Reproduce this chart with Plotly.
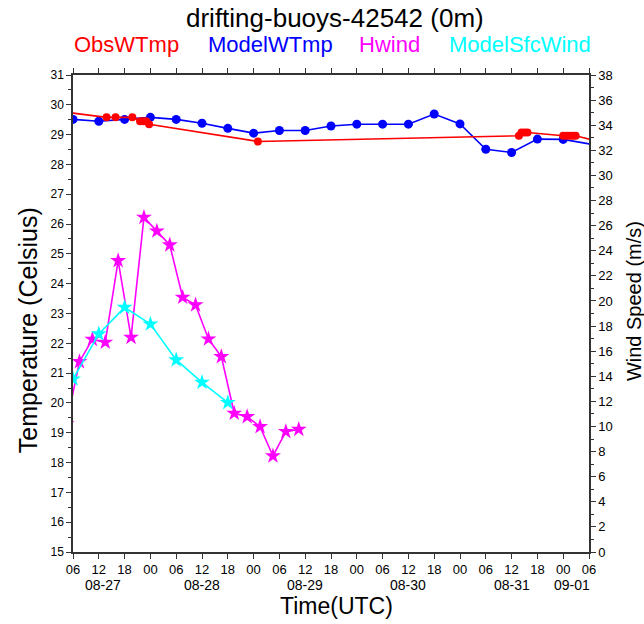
import plotly.graph_objects as go

# Observed water temperature (deg C)
obs_time = ["2021-08-27 00:00", "2021-08-27 13:48", "2021-08-27 15:54", "2021-08-27 19:48",
            "2021-08-27 21:36", "2021-08-27 22:24", "2021-08-27 23:00", "2021-08-27 23:42",
            "2021-08-29 01:00", "2021-08-31 13:42", "2021-08-31 14:18", "2021-08-31 15:00",
            "2021-08-31 15:42", "2021-09-01 00:00", "2021-09-01 00:48", "2021-09-01 01:36",
            "2021-09-01 02:18", "2021-09-01 02:54", "2021-09-01 12:00"]
obs_wtmp = [29.83, 29.58, 29.58, 29.58, 29.45, 29.45, 29.45, 29.35,
            28.77, 28.96, 29.07, 29.07, 29.07, 28.96, 28.96, 28.96,
            28.96, 28.96, 28.64]

# Model water temperature (deg C), 6-hourly
model_time = ["2021-08-27 06:00", "2021-08-27 12:00", "2021-08-27 18:00", "2021-08-28 00:00",
              "2021-08-28 06:00", "2021-08-28 12:00", "2021-08-28 18:00", "2021-08-29 00:00",
              "2021-08-29 06:00", "2021-08-29 12:00", "2021-08-29 18:00", "2021-08-30 00:00",
              "2021-08-30 06:00", "2021-08-30 12:00", "2021-08-30 18:00", "2021-08-31 00:00",
              "2021-08-31 06:00", "2021-08-31 12:00", "2021-08-31 18:00", "2021-09-01 00:00",
              "2021-09-01 12:00"]
model_wtmp = [29.51, 29.45, 29.51, 29.58, 29.51, 29.38, 29.21, 29.05,
              29.14, 29.14, 29.29, 29.35, 29.35, 29.35, 29.69, 29.36,
              28.51, 28.40, 28.85, 28.84, 28.54]

# Hwind analysis wind speed (m/s), 3-hourly
hwind_time = ["2021-08-27 04:30", "2021-08-27 07:30", "2021-08-27 10:30", "2021-08-27 13:30",
              "2021-08-27 16:30", "2021-08-27 19:30", "2021-08-27 22:30", "2021-08-28 01:30",
              "2021-08-28 04:30", "2021-08-28 07:30", "2021-08-28 10:30", "2021-08-28 13:30",
              "2021-08-28 16:30", "2021-08-28 19:30", "2021-08-28 22:30", "2021-08-29 01:30",
              "2021-08-29 04:30", "2021-08-29 07:30", "2021-08-29 10:30"]
hwind = [10.2, 15.16, 16.94, 16.71, 23.21, 17.10, 26.66, 25.57, 24.46, 20.29,
         19.68, 16.97, 15.56, 11.05, 10.78, 9.98, 7.65, 9.59, 9.77]

# Model surface wind speed (m/s), 6-hourly
sfc_time = ["2021-08-27 06:00", "2021-08-27 12:00", "2021-08-27 18:00", "2021-08-28 00:00",
            "2021-08-28 06:00", "2021-08-28 12:00", "2021-08-28 18:00"]
sfc_wind = [13.78, 17.37, 19.49, 18.16, 15.30, 13.52, 11.90]

# Day labels under the hour ticks
day_pos = ["2021-08-27 13:00", "2021-08-28 12:00", "2021-08-29 12:00",
           "2021-08-30 12:00", "2021-08-31 12:00", "2021-09-01 02:00"]
day_text = ["08-27", "08-28", "08-29", "08-30", "08-31", "09-01"]

FONT = "Liberation Sans, Arial, sans-serif"
AXC = "#333333"

fig = go.Figure()
fig.add_trace(go.Scatter(x=model_time, y=model_wtmp, mode="lines+markers", name="ModelWTmp",
                         line=dict(color="#0000ff", width=1.6),
                         marker=dict(symbol="circle", size=9, color="#0000ff")))
fig.add_trace(go.Scatter(x=obs_time, y=obs_wtmp, mode="lines+markers", name="ObsWTmp",
                         line=dict(color="#ff0000", width=1.6),
                         marker=dict(symbol="circle", size=8, color="#ff0000")))
fig.add_trace(go.Scatter(x=hwind_time, y=hwind, mode="lines+markers", name="Hwind", yaxis="y2",
                         line=dict(color="#ff00ff", width=1.6),
                         marker=dict(symbol="star", size=12, color="#ff00ff")))
fig.add_trace(go.Scatter(x=sfc_time, y=sfc_wind, mode="lines+markers", name="ModelSfcWind", yaxis="y2",
                         line=dict(color="#00ffff", width=1.6),
                         marker=dict(symbol="star", size=12, color="#00ffff")))

annotations = [
    dict(text="drifting-buoys-42542 (0m)", xref="paper", yref="paper", x=0.5, y=1.119,
         xanchor="center", yanchor="middle", showarrow=False, xshift=4,
         font=dict(size=26, color="black", family=FONT)),
    dict(text="Time(UTC)", xref="paper", yref="paper", x=0.5, y=0, yshift=-54,
         xanchor="center", yanchor="middle", showarrow=False, xshift=5,
         font=dict(size=23, color="black", family=FONT)),
    dict(text="Temperature (Celsius)", xref="paper", yref="paper", x=0, y=0.465, xshift=-45,
         xanchor="center", yanchor="middle", textangle=-90, showarrow=False,
         font=dict(size=25, color="black", family=FONT)),
    dict(text="Wind Speed (m/s)", xref="paper", yref="paper", x=1, y=0.526, xshift=45,
         xanchor="center", yanchor="middle", textangle=-90, showarrow=False,
         font=dict(size=20, color="black", family=FONT)),
]
legend_items = [("ObsWTmp", "#ff0000", 126), ("ModelWTmp", "#0000ff", 270),
                ("Hwind", "#ff00ff", 389), ("ModelSfcWind", "#00ffff", 520)]
for txt, col, cx in legend_items:
    annotations.append(dict(text=txt, xref="paper", yref="paper", x=(cx - 73) / 516, y=1.063,
                            xanchor="center", yanchor="middle", showarrow=False,
                            font=dict(size=22, color=col, family=FONT)))
for pos, txt in zip(day_pos, day_text):
    annotations.append(dict(text=txt, xref="x", yref="paper", x=pos, y=0, yshift=-33,
                            xanchor="center", yanchor="middle", showarrow=False,
                            font=dict(size=14, color="black", family=FONT)))

fig.update_layout(
    width=644, height=624,
    margin=dict(l=73, r=55, t=75, b=72),
    paper_bgcolor="white", plot_bgcolor="white",
    showlegend=False,
    font=dict(family=FONT, color="black"),
    annotations=annotations,
    xaxis=dict(type="date", range=["2021-08-27 06:00", "2021-09-01 06:00"],
               tick0="2021-08-27 06:00", dtick=6 * 3600 * 1000, tickformat="%H",
               ticks="outside", ticklen=5, tickwidth=1, tickcolor=AXC,
               showline=True, linecolor=AXC, linewidth=1.5, mirror="ticks",
               showgrid=False, zeroline=False,
               tickfont=dict(size=13, color="black", family=FONT)),
    yaxis=dict(range=[15, 31], dtick=1, tick0=15,
               ticks="outside", ticklen=5, tickwidth=1, tickcolor=AXC,
               minor=dict(dtick=0.5, ticks="outside", ticklen=3, tickcolor=AXC),
               showline=True, linecolor=AXC, linewidth=1.5,
               showgrid=False, zeroline=False,
               tickfont=dict(size=12, color="black", family=FONT)),
    yaxis2=dict(range=[0, 38], dtick=2, tick0=0, overlaying="y", side="right",
                ticks="outside", ticklen=5, tickwidth=1, tickcolor=AXC,
                minor=dict(dtick=1, ticks="outside", ticklen=3, tickcolor=AXC),
                showline=True, linecolor=AXC, linewidth=1.5,
                showgrid=False, zeroline=False,
                tickfont=dict(size=13, color="black", family=FONT)),
)

fig.write_html("out.html")
